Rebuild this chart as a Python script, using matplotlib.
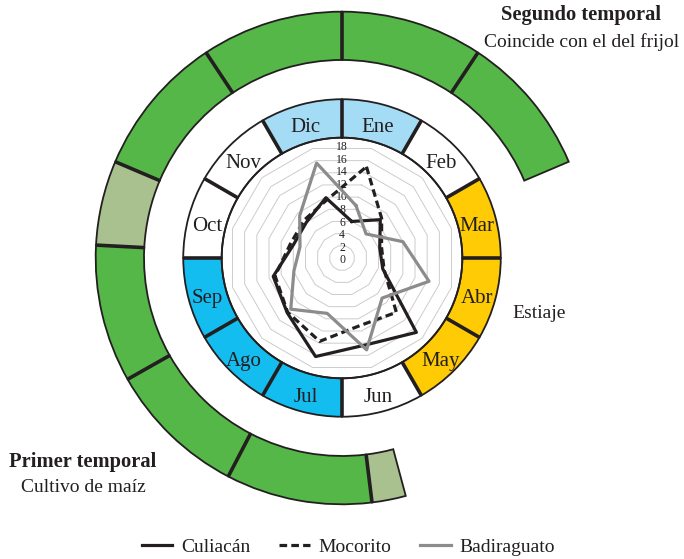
import numpy as np
import matplotlib
matplotlib.use("Agg")
import matplotlib.pyplot as plt
from matplotlib.lines import Line2D
from matplotlib.transforms import offset_copy

plt.rcParams['font.family'] = ['Liberation Serif', 'DejaVu Serif']
plt.rcParams['lines.scale_dashes'] = False

# months and values read from the radar
months = ['Ene', 'Feb', 'Mar', 'Abr', 'May', 'Jun', 'Jul', 'Ago', 'Sep', 'Oct', 'Nov', 'Dic']
culiacan = [6.0, 8.6, 6.2, 6.7, 16.7, 14.3, 16.2, 12.3, 11.3, 8.0, 8.0, 9.9]
mocorito = [15.0, 8.9, 6.5, 6.9, 12.2, 11.1, 13.7, 12.2, 11.0, 8.5, 8.5, 9.5]
badiraguato = [8.6, 5.4, 10.0, 14.3, 9.0, 15.1, 9.1, 11.5, 7.9, 6.9, 9.5, 15.6]
ticks = [0, 2, 4, 6, 8, 10, 12, 14, 16, 18]

# season colours for the month ring
light_blue = '#a5dcf5'
cyan = '#14bdf0'
yellow = '#ffcb05'
month_colors = [light_blue, 'white', yellow, yellow, yellow, 'white',
                cyan, cyan, cyan, 'white', 'white', light_blue]

# rainy season ring (degrees clockwise from the start of Ene)
green = '#55b748'
pale_green = '#a9c18f'
season_edges = [165, 173, 207.5, 240.5, 273, 293, 326.5, 360, 393.5, 427]
season_colors = [pale_green, green, green, green, pale_green, green, green, green, green]

ink = '#231f20'
r_in, r_mid, r_g1, r_g2 = 19.1, 25.2, 31.43, 39.1

fig = plt.figure(figsize=(6.84, 5.59), dpi=100)
ax = fig.add_axes([0.1316, 0.0877, 0.7368, 0.9016], projection='polar')
ax.set_theta_zero_location('N')
ax.set_theta_direction(-1)
ax.set_ylim(0, 40)
ax.grid(False)
ax.set_xticks([])
ax.set_yticks([])
ax.spines['polar'].set_visible(False)
ax.patch.set_alpha(0)

step = 2 * np.pi / 12
centers = np.arange(12) * step + step / 2

# month ring
ax.bar(centers, r_mid - r_in, width=step, bottom=r_in, color=month_colors,
       edgecolor=ink, linewidth=1.3)
for k in range(12):
    ax.plot([k * step, k * step], [r_in, r_mid], color=ink, lw=2.6, solid_capstyle='butt')
month_tr = offset_copy(ax.transData, fig=fig, y=-2, units='dots')
for k, m in enumerate(months):
    ax.text(centers[k], (r_in + r_mid) / 2, m, transform=month_tr, ha='center',
            va='center_baseline', fontsize=15, color=ink)

# season ring
edges = np.deg2rad(season_edges)
for k, c in enumerate(season_colors):
    a, b = edges[k], edges[k + 1]
    ax.bar((a + b) / 2, r_g2 - r_g1, width=b - a, bottom=r_g1, color=c,
           edgecolor=ink, linewidth=1.3)
for e in edges[1:-1]:
    ax.plot([e, e], [r_g1, r_g2], color=ink, lw=2.6, solid_capstyle='butt')

# radar grid
full = np.linspace(0, 2 * np.pi, 361)
ax.plot(full, [r_in] * 361, color=ink, lw=1.3)
closed = np.append(centers, centers[0])
for v in ticks[1:]:
    ax.plot(closed, [v] * 13, color='#cccccc', lw=0.7, zorder=1)
lab_tr = offset_copy(ax.transData, fig=fig, y=-2.5, units='dots')
for v in ticks:
    ax.text(0, v, str(v), transform=lab_tr, ha='center', va='center',
            fontsize=8.5, color=ink, zorder=2)

# series
ax.plot(closed, culiacan + culiacan[:1], color=ink, lw=2.3, zorder=3)
ax.plot(closed, mocorito + mocorito[:1], color=ink, lw=2.3, dashes=(5.5, 3), zorder=3)
ax.plot(closed, badiraguato + badiraguato[:1], color='#8c8c8c', lw=2.3, zorder=3)

# annotations
def px(x, y):
    return x / 684, 1 - y / 559

fig.text(*px(581, 15), 'Segundo temporal', ha='center', va='center',
         fontsize=14.8, fontweight='bold', color=ink)
fig.text(*px(582, 42), 'Coincide con el del frijol', ha='center', va='center',
         fontsize=14, color=ink)
fig.text(*px(539, 314), 'Estiaje', ha='center', va='center', fontsize=14, color=ink)
fig.text(*px(83, 462), 'Primer temporal', ha='center', va='center',
         fontsize=14.8, fontweight='bold', color=ink)
fig.text(*px(83, 487), 'Cultivo de maíz', ha='center', va='center',
         fontsize=14, color=ink)

handles = [Line2D([], [], color=ink, lw=2.3),
           Line2D([], [], color=ink, lw=2.3, dashes=(5.5, 3)),
           Line2D([], [], color='#8c8c8c', lw=2.3)]
fig.legend(handles, ['Culiacán', 'Mocorito', 'Badiraguato'], loc='center',
           bbox_to_anchor=px(348.5, 547), ncol=3, frameon=False, fontsize=14,
           handlelength=1.55, handletextpad=0.45, columnspacing=1.5,
           labelcolor=ink)

fig.savefig('out.png', dpi=100)
